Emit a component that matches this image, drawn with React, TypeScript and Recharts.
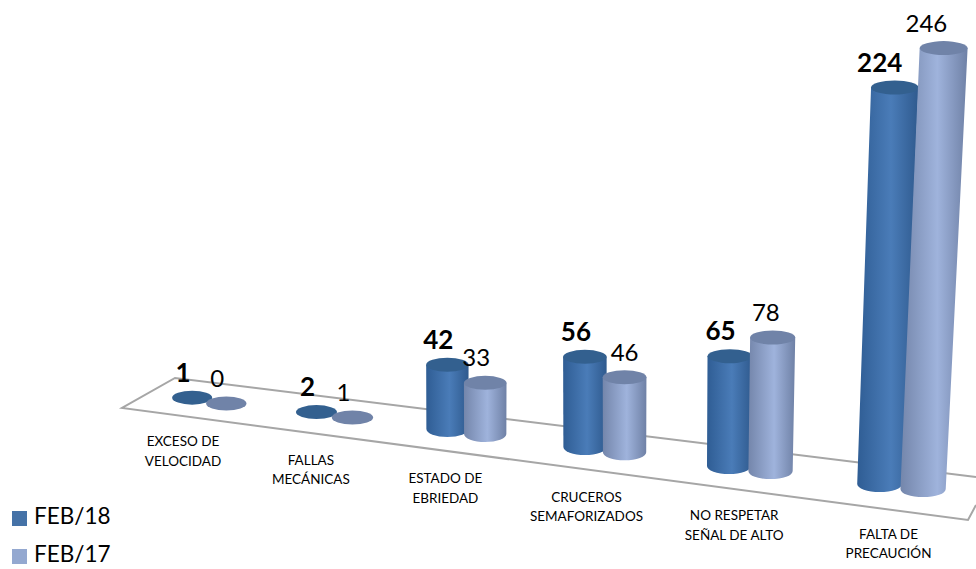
import { BarChart, Bar, XAxis, YAxis, Legend, LabelList, Customized } from "recharts";

const CATEGORIES = [
    "EXCESO DE|VELOCIDAD",
    "FALLAS|MECÁNICAS",
    "ESTADO DE|EBRIEDAD",
    "CRUCEROS|SEMAFORIZADOS",
    "NO RESPETAR|SEÑAL DE ALTO",
    "FALTA DE|PRECAUCIÓN",
];
const FEB_18 = [1, 2, 42, 56, 65, 224];
const FEB_17 = [0, 1, 33, 46, 78, 246];

const tableData = CATEGORIES.map((name, i) => ({
    name,
    feb18: FEB_18[i],
    feb17: FEB_17[i],
}));

const WIDTH = 976;
const HEIGHT = 569;
const STEP = WIDTH / CATEGORIES.length;
const FONT = "Lato, 'Open Sans', sans-serif";

// floor depth per category, the old chart was a tilted 3D one
const FLOOR_Y = [399, 415, 429, 447, 466, 484, 502];
// the FEB/17 labels don't sit at a regular distance from their bars
const NUDGE_17 = [0, 0, 0, 9, 3, 0];

const screenX = (u: number) => 192 + 121 * u + 3.3 * u * u;

const floorY = (u: number) => {
    const i = Math.floor(u);
    return FLOOR_Y[i] + (FLOOR_Y[i + 1] - FLOOR_Y[i]) * (u - i);
};

// bar x/height from the library go through the tilt here
const project = (x: number, width: number, height: number) => {
    const u = (x + width / 2) / STEP - 0.36;
    const cx = screenX(u);
    const baseY = floorY(u);
    const h = (height / 2) * (1.37 + 0.08 * u);
    const shift = Math.max(0, cx - 690) * 0.0002 * h;
    return {
        u,
        cx,
        baseY,
        h,
        topCx: cx + shift,
        topY: baseY - h,
        rx: 20 + 0.5 * u,
        topRx: 20 + 0.5 * u + h * 0.003,
    };
};

const Cylinder = (props: any) => {
    const { x, width, height, topFill, sideId } = props;
    const g = project(x, width, height);
    const left = g.cx - g.rx;
    const right = g.cx + g.rx;
    const body =
        `M${g.topCx - g.topRx} ${g.topY} L${left} ${g.baseY} ` +
        `A${g.rx} 8 0 0 0 ${right} ${g.baseY} L${g.topCx + g.topRx} ${g.topY} Z`;
    return (
        <g>
            {g.h > 3 && <path d={body} fill={`url(#${sideId})`} />}
            <ellipse cx={g.topCx} cy={g.topY} rx={g.topRx} ry={7} fill={topFill} />
        </g>
    );
};

const ValueLabel = (props: any) => {
    const { value, bold } = props;
    const box = props.viewBox ?? props;
    const g = project(box.x, box.width, box.height);
    const nudge = bold ? 0 : NUDGE_17[Math.floor(g.u)];
    return (
        <text
            x={g.cx + (g.topCx - g.cx) * 0.6 - 9 + nudge}
            y={g.topY - 26}
            textAnchor="middle"
            dominantBaseline="central"
            fontFamily={FONT}
            fontSize={bold ? 26 : 24}
            fontWeight={bold ? 700 : 400}
            fill="#000"
        >
            {value}
        </text>
    );
};

const CategoryTick = (props: any) => {
    const { x, payload } = props;
    const u = x / STEP - 0.5;
    const lines = String(payload.value).split("|");
    return (
        <text
            x={screenX(u) - 9 + 3.6 * u}
            textAnchor="middle"
            fontFamily={FONT}
            fontSize={13.5}
            fill="#000"
        >
            {lines.map((line, n) => (
                <tspan
                    key={n}
                    x={screenX(u) - 9 + 3.6 * u}
                    y={446 + 18.5 * u + n * 19.5}
                >
                    {line}
                </tspan>
            ))}
        </text>
    );
};

const Floor = () => (
    <g fill="none" stroke="#a6a6a6" strokeWidth={2}>
        <polyline points="976,477 175,378 122,408 968,520 976,505" />
    </g>
);

const App = () => {
    return (
        <div style={{ position: "absolute", left: 0, top: 0 }}>
            <BarChart
                width={WIDTH}
                height={HEIGHT}
                data={tableData}
                margin={{ top: 20, right: 0, bottom: 0, left: 0 }}
                barSize={STEP * 0.28}
                barGap={0}
            >
                <defs>
                    <linearGradient id="side18" x1="0" y1="0" x2="1" y2="0">
                        <stop offset="0%" stopColor="#2f5d94" />
                        <stop offset="55%" stopColor="#4a7cb8" />
                        <stop offset="100%" stopColor="#2f5a8e" />
                    </linearGradient>
                    <linearGradient id="side17" x1="0" y1="0" x2="1" y2="0">
                        <stop offset="0%" stopColor="#7486ab" />
                        <stop offset="55%" stopColor="#9fb3dc" />
                        <stop offset="100%" stopColor="#6f81a6" />
                    </linearGradient>
                </defs>
                <Customized component={Floor} />
                <XAxis
                    dataKey="name"
                    height={49}
                    axisLine={false}
                    tickLine={false}
                    interval={0}
                    tick={CategoryTick}
                />
                <YAxis hide domain={[0, 250]} />
                <Legend
                    layout="vertical"
                    align="center"
                    verticalAlign="middle"
                    iconType="square"
                    iconSize={15}
                    itemSorter={null}
                    wrapperStyle={{
                        left: 12,
                        top: 497,
                        width: 120,
                        fontFamily: FONT,
                        fontSize: 22.5,
                        lineHeight: "38px",
                        color: "#000",
                    }}
                    formatter={(value) => <span style={{ color: "#000", marginLeft: 3 }}>{value}</span>}
                />
                <Bar
                    dataKey="feb18"
                    name="FEB/18"
                    fill="#4572a7"
                    isAnimationActive={false}
                    shape={(p: any) => <Cylinder {...p} sideId="side18" topFill="#33608f" />}
                >
                    <LabelList content={(p: any) => <ValueLabel {...p} bold />} />
                </Bar>
                <Bar
                    dataKey="feb17"
                    name="FEB/17"
                    fill="#94a8d0"
                    isAnimationActive={false}
                    shape={(p: any) => <Cylinder {...p} sideId="side17" topFill="#7083a8" />}
                >
                    <LabelList content={(p: any) => <ValueLabel {...p} />} />
                </Bar>
            </BarChart>
        </div>
    );
};

export default App;
